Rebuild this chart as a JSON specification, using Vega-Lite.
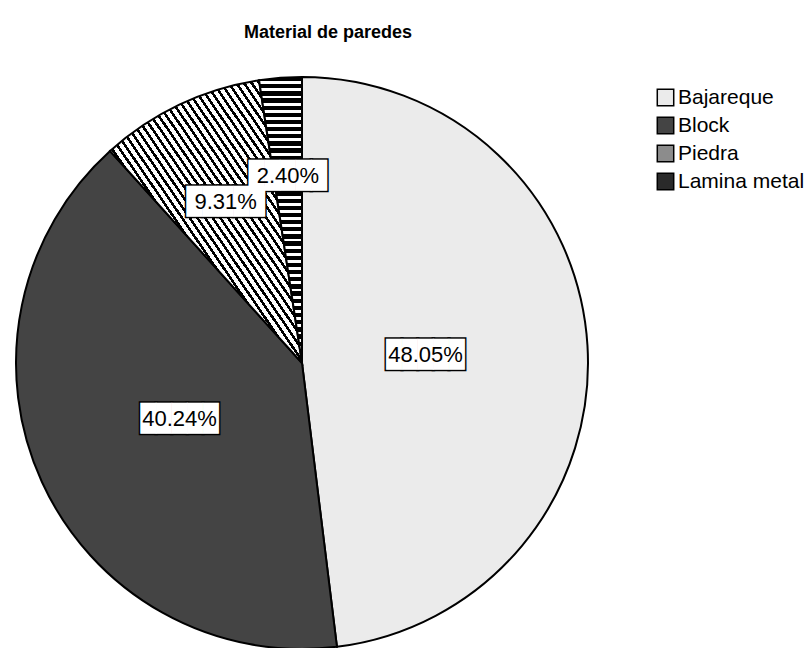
{
  "$schema": "https://vega.github.io/schema/vega-lite/v6.json",
  "width": 572,
  "height": 572,
  "padding": {"left": 12, "top": 24, "right": 0, "bottom": 0},
  "background": "white",
  "config": {"view": {"stroke": null}, "font": "Liberation Sans"},
  "title": {
    "text": "Material de paredes",
    "fontSize": 18,
    "fontWeight": "bold",
    "font": "Liberation Sans",
    "color": "black",
    "anchor": "middle",
    "dx": 26,
    "offset": 31
  },
  "data": {
    "values": [
      {"Material": "Bajareque", "pct": 0.4805, "idx": 1},
      {"Material": "Block", "pct": 0.4024, "idx": 2},
      {"Material": "Piedra", "pct": 0.0931, "idx": 3},
      {"Material": "Lamina metal", "pct": 0.0240, "idx": 4}
    ]
  },
  "encoding": {
    "theta": {"field": "pct", "type": "quantitative", "stack": true},
    "order": {"field": "idx", "type": "quantitative"}
  },
  "layer": [
    {
      "mark": {"type": "arc", "radius": 286, "stroke": "black", "strokeWidth": 2},
      "encoding": {
        "color": {
          "field": "Material",
          "type": "nominal",
          "sort": ["Bajareque", "Block", "Piedra", "Lamina metal"],
          "condition": [
            {"test": "datum.Material === 'Piedra'", "value": {"gradient": "linear", "x1": 0, "y1": 1, "x2": 1, "y2": 0, "stops": [
              {"offset": 0, "color": "#000"}, {"offset": 0.008, "color": "#000"}, {"offset": 0.008, "color": "#fff"}, {"offset": 0.02, "color": "#fff"},
              {"offset": 0.02, "color": "#000"}, {"offset": 0.028, "color": "#000"}, {"offset": 0.028, "color": "#fff"}, {"offset": 0.04, "color": "#fff"},
              {"offset": 0.04, "color": "#000"}, {"offset": 0.048, "color": "#000"}, {"offset": 0.048, "color": "#fff"}, {"offset": 0.06, "color": "#fff"},
              {"offset": 0.06, "color": "#000"}, {"offset": 0.068, "color": "#000"}, {"offset": 0.068, "color": "#fff"}, {"offset": 0.08, "color": "#fff"},
              {"offset": 0.08, "color": "#000"}, {"offset": 0.088, "color": "#000"}, {"offset": 0.088, "color": "#fff"}, {"offset": 0.10, "color": "#fff"},
              {"offset": 0.10, "color": "#000"}, {"offset": 0.108, "color": "#000"}, {"offset": 0.108, "color": "#fff"}, {"offset": 0.12, "color": "#fff"},
              {"offset": 0.12, "color": "#000"}, {"offset": 0.128, "color": "#000"}, {"offset": 0.128, "color": "#fff"}, {"offset": 0.14, "color": "#fff"},
              {"offset": 0.14, "color": "#000"}, {"offset": 0.148, "color": "#000"}, {"offset": 0.148, "color": "#fff"}, {"offset": 0.16, "color": "#fff"},
              {"offset": 0.16, "color": "#000"}, {"offset": 0.168, "color": "#000"}, {"offset": 0.168, "color": "#fff"}, {"offset": 0.18, "color": "#fff"},
              {"offset": 0.18, "color": "#000"}, {"offset": 0.188, "color": "#000"}, {"offset": 0.188, "color": "#fff"}, {"offset": 0.20, "color": "#fff"},
              {"offset": 0.20, "color": "#000"}, {"offset": 0.208, "color": "#000"}, {"offset": 0.208, "color": "#fff"}, {"offset": 0.22, "color": "#fff"},
              {"offset": 0.22, "color": "#000"}, {"offset": 0.228, "color": "#000"}, {"offset": 0.228, "color": "#fff"}, {"offset": 0.24, "color": "#fff"},
              {"offset": 0.24, "color": "#000"}, {"offset": 0.248, "color": "#000"}, {"offset": 0.248, "color": "#fff"}, {"offset": 0.26, "color": "#fff"},
              {"offset": 0.26, "color": "#000"}, {"offset": 0.268, "color": "#000"}, {"offset": 0.268, "color": "#fff"}, {"offset": 0.28, "color": "#fff"},
              {"offset": 0.28, "color": "#000"}, {"offset": 0.288, "color": "#000"}, {"offset": 0.288, "color": "#fff"}, {"offset": 0.30, "color": "#fff"},
              {"offset": 0.30, "color": "#000"}, {"offset": 0.308, "color": "#000"}, {"offset": 0.308, "color": "#fff"}, {"offset": 0.32, "color": "#fff"},
              {"offset": 0.32, "color": "#000"}, {"offset": 0.328, "color": "#000"}, {"offset": 0.328, "color": "#fff"}, {"offset": 0.34, "color": "#fff"},
              {"offset": 0.34, "color": "#000"}, {"offset": 0.348, "color": "#000"}, {"offset": 0.348, "color": "#fff"}, {"offset": 0.36, "color": "#fff"},
              {"offset": 0.36, "color": "#000"}, {"offset": 0.368, "color": "#000"}, {"offset": 0.368, "color": "#fff"}, {"offset": 0.38, "color": "#fff"},
              {"offset": 0.38, "color": "#000"}, {"offset": 0.388, "color": "#000"}, {"offset": 0.388, "color": "#fff"}, {"offset": 0.40, "color": "#fff"},
              {"offset": 0.40, "color": "#000"}, {"offset": 0.408, "color": "#000"}, {"offset": 0.408, "color": "#fff"}, {"offset": 0.42, "color": "#fff"},
              {"offset": 0.42, "color": "#000"}, {"offset": 0.428, "color": "#000"}, {"offset": 0.428, "color": "#fff"}, {"offset": 0.44, "color": "#fff"},
              {"offset": 0.44, "color": "#000"}, {"offset": 0.448, "color": "#000"}, {"offset": 0.448, "color": "#fff"}, {"offset": 0.46, "color": "#fff"},
              {"offset": 0.46, "color": "#000"}, {"offset": 0.468, "color": "#000"}, {"offset": 0.468, "color": "#fff"}, {"offset": 0.48, "color": "#fff"},
              {"offset": 0.48, "color": "#000"}, {"offset": 0.488, "color": "#000"}, {"offset": 0.488, "color": "#fff"}, {"offset": 0.50, "color": "#fff"},
              {"offset": 0.50, "color": "#000"}, {"offset": 0.508, "color": "#000"}, {"offset": 0.508, "color": "#fff"}, {"offset": 0.52, "color": "#fff"},
              {"offset": 0.52, "color": "#000"}, {"offset": 0.528, "color": "#000"}, {"offset": 0.528, "color": "#fff"}, {"offset": 0.54, "color": "#fff"},
              {"offset": 0.54, "color": "#000"}, {"offset": 0.548, "color": "#000"}, {"offset": 0.548, "color": "#fff"}, {"offset": 0.56, "color": "#fff"},
              {"offset": 0.56, "color": "#000"}, {"offset": 0.568, "color": "#000"}, {"offset": 0.568, "color": "#fff"}, {"offset": 0.58, "color": "#fff"},
              {"offset": 0.58, "color": "#000"}, {"offset": 0.588, "color": "#000"}, {"offset": 0.588, "color": "#fff"}, {"offset": 0.60, "color": "#fff"},
              {"offset": 0.60, "color": "#000"}, {"offset": 0.608, "color": "#000"}, {"offset": 0.608, "color": "#fff"}, {"offset": 0.62, "color": "#fff"},
              {"offset": 0.62, "color": "#000"}, {"offset": 0.628, "color": "#000"}, {"offset": 0.628, "color": "#fff"}, {"offset": 0.64, "color": "#fff"},
              {"offset": 0.64, "color": "#000"}, {"offset": 0.648, "color": "#000"}, {"offset": 0.648, "color": "#fff"}, {"offset": 0.66, "color": "#fff"},
              {"offset": 0.66, "color": "#000"}, {"offset": 0.668, "color": "#000"}, {"offset": 0.668, "color": "#fff"}, {"offset": 0.68, "color": "#fff"},
              {"offset": 0.68, "color": "#000"}, {"offset": 0.688, "color": "#000"}, {"offset": 0.688, "color": "#fff"}, {"offset": 0.70, "color": "#fff"},
              {"offset": 0.70, "color": "#000"}, {"offset": 0.708, "color": "#000"}, {"offset": 0.708, "color": "#fff"}, {"offset": 0.72, "color": "#fff"},
              {"offset": 0.72, "color": "#000"}, {"offset": 0.728, "color": "#000"}, {"offset": 0.728, "color": "#fff"}, {"offset": 0.74, "color": "#fff"},
              {"offset": 0.74, "color": "#000"}, {"offset": 0.748, "color": "#000"}, {"offset": 0.748, "color": "#fff"}, {"offset": 0.76, "color": "#fff"},
              {"offset": 0.76, "color": "#000"}, {"offset": 0.768, "color": "#000"}, {"offset": 0.768, "color": "#fff"}, {"offset": 0.78, "color": "#fff"},
              {"offset": 0.78, "color": "#000"}, {"offset": 0.788, "color": "#000"}, {"offset": 0.788, "color": "#fff"}, {"offset": 0.80, "color": "#fff"},
              {"offset": 0.80, "color": "#000"}, {"offset": 0.808, "color": "#000"}, {"offset": 0.808, "color": "#fff"}, {"offset": 0.82, "color": "#fff"},
              {"offset": 0.82, "color": "#000"}, {"offset": 0.828, "color": "#000"}, {"offset": 0.828, "color": "#fff"}, {"offset": 0.84, "color": "#fff"},
              {"offset": 0.84, "color": "#000"}, {"offset": 0.848, "color": "#000"}, {"offset": 0.848, "color": "#fff"}, {"offset": 0.86, "color": "#fff"},
              {"offset": 0.86, "color": "#000"}, {"offset": 0.868, "color": "#000"}, {"offset": 0.868, "color": "#fff"}, {"offset": 0.88, "color": "#fff"},
              {"offset": 0.88, "color": "#000"}, {"offset": 0.888, "color": "#000"}, {"offset": 0.888, "color": "#fff"}, {"offset": 0.90, "color": "#fff"},
              {"offset": 0.90, "color": "#000"}, {"offset": 0.908, "color": "#000"}, {"offset": 0.908, "color": "#fff"}, {"offset": 0.92, "color": "#fff"},
              {"offset": 0.92, "color": "#000"}, {"offset": 0.928, "color": "#000"}, {"offset": 0.928, "color": "#fff"}, {"offset": 0.94, "color": "#fff"},
              {"offset": 0.94, "color": "#000"}, {"offset": 0.948, "color": "#000"}, {"offset": 0.948, "color": "#fff"}, {"offset": 0.96, "color": "#fff"},
              {"offset": 0.96, "color": "#000"}, {"offset": 0.968, "color": "#000"}, {"offset": 0.968, "color": "#fff"}, {"offset": 0.98, "color": "#fff"},
              {"offset": 0.98, "color": "#000"}, {"offset": 0.988, "color": "#000"}, {"offset": 0.988, "color": "#fff"}, {"offset": 1, "color": "#fff"}
            ]}},
            {"test": "datum.Material === 'Lamina metal'", "value": {"gradient": "linear", "x1": 0, "y1": 0, "x2": 0, "y2": 1, "stops": [
              {"offset": 0.000, "color": "#000"}, {"offset": 0.015, "color": "#000"}, {"offset": 0.015, "color": "#fff"}, {"offset": 0.025, "color": "#fff"},
              {"offset": 0.025, "color": "#000"}, {"offset": 0.040, "color": "#000"}, {"offset": 0.040, "color": "#fff"}, {"offset": 0.050, "color": "#fff"},
              {"offset": 0.050, "color": "#000"}, {"offset": 0.065, "color": "#000"}, {"offset": 0.065, "color": "#fff"}, {"offset": 0.075, "color": "#fff"},
              {"offset": 0.075, "color": "#000"}, {"offset": 0.090, "color": "#000"}, {"offset": 0.090, "color": "#fff"}, {"offset": 0.100, "color": "#fff"},
              {"offset": 0.100, "color": "#000"}, {"offset": 0.115, "color": "#000"}, {"offset": 0.115, "color": "#fff"}, {"offset": 0.125, "color": "#fff"},
              {"offset": 0.125, "color": "#000"}, {"offset": 0.140, "color": "#000"}, {"offset": 0.140, "color": "#fff"}, {"offset": 0.150, "color": "#fff"},
              {"offset": 0.150, "color": "#000"}, {"offset": 0.165, "color": "#000"}, {"offset": 0.165, "color": "#fff"}, {"offset": 0.175, "color": "#fff"},
              {"offset": 0.175, "color": "#000"}, {"offset": 0.190, "color": "#000"}, {"offset": 0.190, "color": "#fff"}, {"offset": 0.200, "color": "#fff"},
              {"offset": 0.200, "color": "#000"}, {"offset": 0.215, "color": "#000"}, {"offset": 0.215, "color": "#fff"}, {"offset": 0.225, "color": "#fff"},
              {"offset": 0.225, "color": "#000"}, {"offset": 0.240, "color": "#000"}, {"offset": 0.240, "color": "#fff"}, {"offset": 0.250, "color": "#fff"},
              {"offset": 0.250, "color": "#000"}, {"offset": 0.265, "color": "#000"}, {"offset": 0.265, "color": "#fff"}, {"offset": 0.275, "color": "#fff"},
              {"offset": 0.275, "color": "#000"}, {"offset": 0.290, "color": "#000"}, {"offset": 0.290, "color": "#fff"}, {"offset": 0.300, "color": "#fff"},
              {"offset": 0.300, "color": "#000"}, {"offset": 0.315, "color": "#000"}, {"offset": 0.315, "color": "#fff"}, {"offset": 0.325, "color": "#fff"},
              {"offset": 0.325, "color": "#000"}, {"offset": 0.340, "color": "#000"}, {"offset": 0.340, "color": "#fff"}, {"offset": 0.350, "color": "#fff"},
              {"offset": 0.350, "color": "#000"}, {"offset": 0.365, "color": "#000"}, {"offset": 0.365, "color": "#fff"}, {"offset": 0.375, "color": "#fff"},
              {"offset": 0.375, "color": "#000"}, {"offset": 0.390, "color": "#000"}, {"offset": 0.390, "color": "#fff"}, {"offset": 0.400, "color": "#fff"},
              {"offset": 0.400, "color": "#000"}, {"offset": 0.415, "color": "#000"}, {"offset": 0.415, "color": "#fff"}, {"offset": 0.425, "color": "#fff"},
              {"offset": 0.425, "color": "#000"}, {"offset": 0.440, "color": "#000"}, {"offset": 0.440, "color": "#fff"}, {"offset": 0.450, "color": "#fff"},
              {"offset": 0.450, "color": "#000"}, {"offset": 0.465, "color": "#000"}, {"offset": 0.465, "color": "#fff"}, {"offset": 0.475, "color": "#fff"},
              {"offset": 0.475, "color": "#000"}, {"offset": 0.490, "color": "#000"}, {"offset": 0.490, "color": "#fff"}, {"offset": 0.500, "color": "#fff"},
              {"offset": 0.500, "color": "#000"}, {"offset": 0.515, "color": "#000"}, {"offset": 0.515, "color": "#fff"}, {"offset": 0.525, "color": "#fff"},
              {"offset": 0.525, "color": "#000"}, {"offset": 0.540, "color": "#000"}, {"offset": 0.540, "color": "#fff"}, {"offset": 0.550, "color": "#fff"},
              {"offset": 0.550, "color": "#000"}, {"offset": 0.565, "color": "#000"}, {"offset": 0.565, "color": "#fff"}, {"offset": 0.575, "color": "#fff"},
              {"offset": 0.575, "color": "#000"}, {"offset": 0.590, "color": "#000"}, {"offset": 0.590, "color": "#fff"}, {"offset": 0.600, "color": "#fff"},
              {"offset": 0.600, "color": "#000"}, {"offset": 0.615, "color": "#000"}, {"offset": 0.615, "color": "#fff"}, {"offset": 0.625, "color": "#fff"},
              {"offset": 0.625, "color": "#000"}, {"offset": 0.640, "color": "#000"}, {"offset": 0.640, "color": "#fff"}, {"offset": 0.650, "color": "#fff"},
              {"offset": 0.650, "color": "#000"}, {"offset": 0.665, "color": "#000"}, {"offset": 0.665, "color": "#fff"}, {"offset": 0.675, "color": "#fff"},
              {"offset": 0.675, "color": "#000"}, {"offset": 0.690, "color": "#000"}, {"offset": 0.690, "color": "#fff"}, {"offset": 0.700, "color": "#fff"},
              {"offset": 0.700, "color": "#000"}, {"offset": 0.715, "color": "#000"}, {"offset": 0.715, "color": "#fff"}, {"offset": 0.725, "color": "#fff"},
              {"offset": 0.725, "color": "#000"}, {"offset": 0.740, "color": "#000"}, {"offset": 0.740, "color": "#fff"}, {"offset": 0.750, "color": "#fff"},
              {"offset": 0.750, "color": "#000"}, {"offset": 0.765, "color": "#000"}, {"offset": 0.765, "color": "#fff"}, {"offset": 0.775, "color": "#fff"},
              {"offset": 0.775, "color": "#000"}, {"offset": 0.790, "color": "#000"}, {"offset": 0.790, "color": "#fff"}, {"offset": 0.800, "color": "#fff"},
              {"offset": 0.800, "color": "#000"}, {"offset": 0.815, "color": "#000"}, {"offset": 0.815, "color": "#fff"}, {"offset": 0.825, "color": "#fff"},
              {"offset": 0.825, "color": "#000"}, {"offset": 0.840, "color": "#000"}, {"offset": 0.840, "color": "#fff"}, {"offset": 0.850, "color": "#fff"},
              {"offset": 0.850, "color": "#000"}, {"offset": 0.865, "color": "#000"}, {"offset": 0.865, "color": "#fff"}, {"offset": 0.875, "color": "#fff"},
              {"offset": 0.875, "color": "#000"}, {"offset": 0.890, "color": "#000"}, {"offset": 0.890, "color": "#fff"}, {"offset": 0.900, "color": "#fff"},
              {"offset": 0.900, "color": "#000"}, {"offset": 0.915, "color": "#000"}, {"offset": 0.915, "color": "#fff"}, {"offset": 0.925, "color": "#fff"},
              {"offset": 0.925, "color": "#000"}, {"offset": 0.940, "color": "#000"}, {"offset": 0.940, "color": "#fff"}, {"offset": 0.950, "color": "#fff"},
              {"offset": 0.950, "color": "#000"}, {"offset": 0.965, "color": "#000"}, {"offset": 0.965, "color": "#fff"}, {"offset": 0.975, "color": "#fff"},
              {"offset": 0.975, "color": "#000"}, {"offset": 0.990, "color": "#000"}, {"offset": 0.990, "color": "#fff"}, {"offset": 1, "color": "#fff"}
            ]}}
          ],
          "scale": {
            "domain": ["Bajareque", "Block", "Piedra", "Lamina metal"],
            "range": ["#ebebeb", "#444444", "#8c8c8c", "#2a2a2a"]
          },
          "legend": {
            "title": null,
            "orient": "none",
            "legendX": 639,
            "legendY": 10,
            "symbolType": "square",
            "symbolSize": 270,
            "symbolStrokeColor": "black",
            "symbolStrokeWidth": 1.5,
            "labelFontSize": 21,
            "labelFont": "Liberation Sans",
            "labelColor": "black",
            "labelOffset": 2,
            "rowPadding": 5
          }
        }
      }
    },
    {
      "mark": {"type": "text", "text": "█████", "font": "DejaVu Sans Mono", "fontSize": 26, "fill": "white", "stroke": "black", "strokeWidth": 3, "baseline": "middle", "align": "center"},
      "encoding": {
        "radius": {"field": "pct", "type": "quantitative", "scale": {"domain": [0, 0.5], "range": [191, 121], "zero": false}}
      }
    },
    {
      "mark": {"type": "text", "text": "█████", "font": "DejaVu Sans Mono", "fontSize": 26, "fill": "white", "baseline": "middle", "align": "center"},
      "encoding": {
        "radius": {"field": "pct", "type": "quantitative", "scale": {"domain": [0, 0.5], "range": [191, 121], "zero": false}}
      }
    },
    {
      "mark": {"type": "text", "fontSize": 22, "font": "Liberation Sans", "fill": "black", "baseline": "middle", "align": "center"},
      "encoding": {
        "radius": {"field": "pct", "type": "quantitative", "scale": {"domain": [0, 0.5], "range": [191, 121], "zero": false}},
        "text": {"field": "pct", "type": "quantitative", "format": ".2%"}
      }
    }
  ]
}
